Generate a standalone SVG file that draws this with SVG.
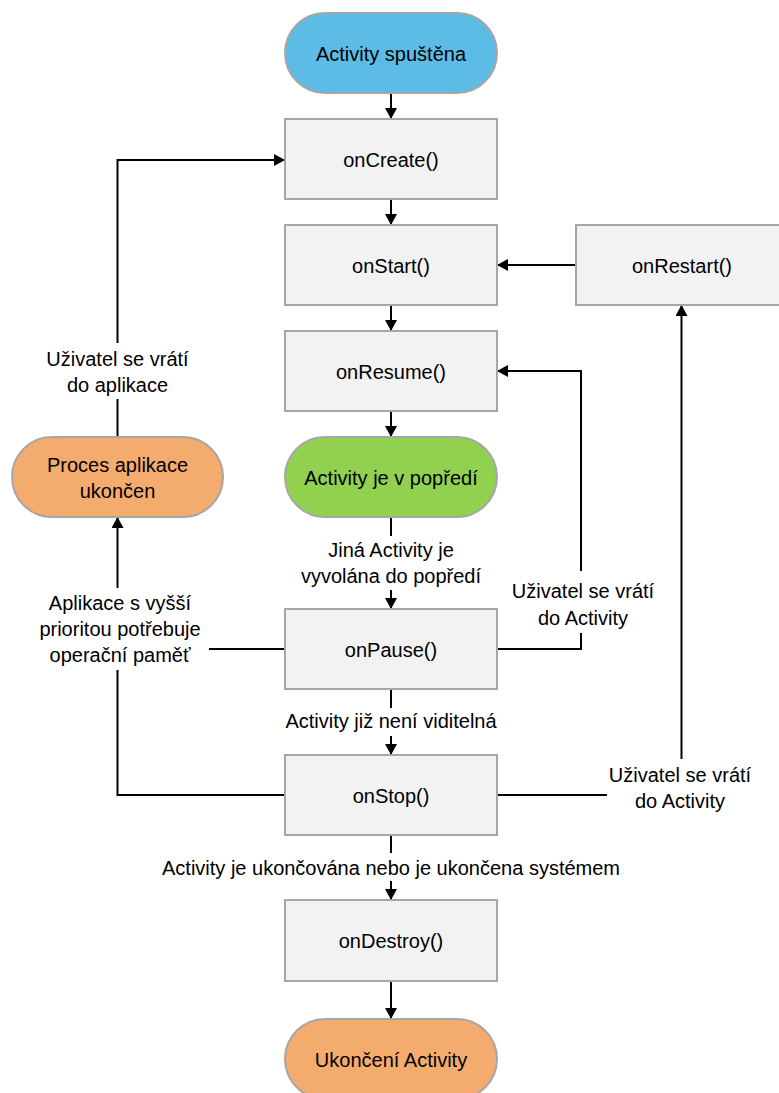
<svg xmlns="http://www.w3.org/2000/svg" width="779" height="1093" viewBox="0 0 779 1093">
  <style>
    .box { fill: #F2F2F2; stroke: #A6A6A6; stroke-width: 2; }
    .term { stroke: #A6A6A6; stroke-width: 2; }
    .blue { fill: #5DBCE6; }
    .green { fill: #92D050; }
    .orange { fill: #F4AC6E; }
    text { font-family: "Liberation Sans", Arial, sans-serif; font-size: 20px; fill: #000; text-anchor: middle; }
    .edge { fill: none; stroke: #000; stroke-width: 2; }
    .arrow { marker-end: url(#head); }
  </style>
  <defs>
    <marker id="head" markerUnits="userSpaceOnUse" markerWidth="12" markerHeight="12" refX="11" refY="6" orient="auto">
      <path d="M0,0 L11,6 L0,12 Z" fill="#000"/>
    </marker>
  </defs>
  <rect width="779" height="1093" fill="#fff"/>

  <!-- connectors -->
  <g id="connectors">
    <line class="edge arrow" x1="391" y1="93" x2="391" y2="119"/>
    <line class="edge arrow" x1="391" y1="199" x2="391" y2="225"/>
    <line class="edge arrow" x1="391" y1="305" x2="391" y2="331"/>
    <line class="edge arrow" x1="391" y1="411" x2="391" y2="437"/>
    <!-- green -> onPause (label in the gap) -->
    <line class="edge" x1="391" y1="517" x2="391" y2="536"/>
    <line class="edge arrow" x1="391" y1="590" x2="391" y2="609"/>
    <!-- onPause -> onStop -->
    <line class="edge" x1="391" y1="689" x2="391" y2="708"/>
    <line class="edge arrow" x1="391" y1="736" x2="391" y2="755"/>
    <!-- onStop -> onDestroy -->
    <line class="edge" x1="391" y1="835" x2="391" y2="853"/>
    <line class="edge arrow" x1="391" y1="881" x2="391" y2="900"/>
    <!-- onDestroy -> end -->
    <line class="edge arrow" x1="391" y1="981" x2="391" y2="1019"/>
    <!-- onRestart -> onStart -->
    <line class="edge arrow" x1="576" y1="265" x2="497" y2="265"/>
    <!-- process killed -> onCreate -->
    <polyline class="edge" points="117.5,437 117.5,399"/>
    <polyline class="edge arrow" points="117.5,343 117.5,160 285,160"/>
    <!-- onPause / onStop -> process killed -->
    <line class="edge" x1="285" y1="649" x2="209" y2="649"/>
    <polyline class="edge" points="285,795 117.5,795 117.5,670"/>
    <line class="edge arrow" x1="117.5" y1="588" x2="117.5" y2="517"/>
    <!-- onPause -> onResume -->
    <polyline class="edge" points="497,649 581,649 581,633"/>
    <polyline class="edge arrow" points="581,571 581,371 497,371"/>
    <!-- onStop -> onRestart -->
    <line class="edge" x1="497" y1="795" x2="607" y2="795"/>
    <line class="edge arrow" x1="681.5" y1="759" x2="681.5" y2="305"/>
  </g>

  <!-- connector labels -->
  <g id="labels">
    <text x="117.5" y="366">Uživatel se vrátí</text>
    <text x="117.5" y="392">do aplikace</text>
    <text x="120" y="610">Aplikace s vyšší</text>
    <text x="120" y="636">prioritou potřebuje</text>
    <text x="120" y="662">operační paměť</text>
    <text x="391" y="557">Jiná Activity je</text>
    <text x="391" y="583">vyvolána do popředí</text>
    <text x="583" y="598">Uživatel se vrátí</text>
    <text x="583" y="625">do Activity</text>
    <text x="391" y="728">Activity již není viditelná</text>
    <text x="680" y="782">Uživatel se vrátí</text>
    <text x="680" y="808">do Activity</text>
    <text x="391" y="875">Activity je ukončována nebo je ukončena systémem</text>
  </g>

  <!-- nodes -->
  <g id="start">
    <rect class="term blue" x="285" y="13" width="212" height="80" rx="40"/>
    <text x="391" y="61">Activity spuštěna</text>
  </g>
  <g id="onCreate">
    <rect class="box" x="285" y="119" width="212" height="80"/>
    <text x="391" y="167">onCreate()</text>
  </g>
  <g id="onStart">
    <rect class="box" x="285" y="225" width="212" height="80"/>
    <text x="391" y="273">onStart()</text>
  </g>
  <g id="onRestart">
    <rect class="box" x="576" y="225" width="212" height="80"/>
    <text x="682" y="273">onRestart()</text>
  </g>
  <g id="onResume">
    <rect class="box" x="285" y="331" width="212" height="80"/>
    <text x="391" y="379">onResume()</text>
  </g>
  <g id="foreground">
    <rect class="term green" x="285" y="437" width="212" height="80" rx="40"/>
    <text x="391" y="485">Activity je v popředí</text>
  </g>
  <g id="processKilled">
    <rect class="term orange" x="12" y="437" width="211" height="80" rx="40"/>
    <text x="117.5" y="472">Proces aplikace</text>
    <text x="117.5" y="498">ukončen</text>
  </g>
  <g id="onPause">
    <rect class="box" x="285" y="609" width="212" height="80"/>
    <text x="391" y="657">onPause()</text>
  </g>
  <g id="onStop">
    <rect class="box" x="285" y="755" width="212" height="80"/>
    <text x="391" y="803">onStop()</text>
  </g>
  <g id="onDestroy">
    <rect class="box" x="285" y="900" width="212" height="81"/>
    <text x="391" y="948">onDestroy()</text>
  </g>
  <g id="end">
    <rect class="term orange" x="285" y="1019" width="212" height="80" rx="40"/>
    <text x="391" y="1067">Ukončení Activity</text>
  </g>
</svg>
